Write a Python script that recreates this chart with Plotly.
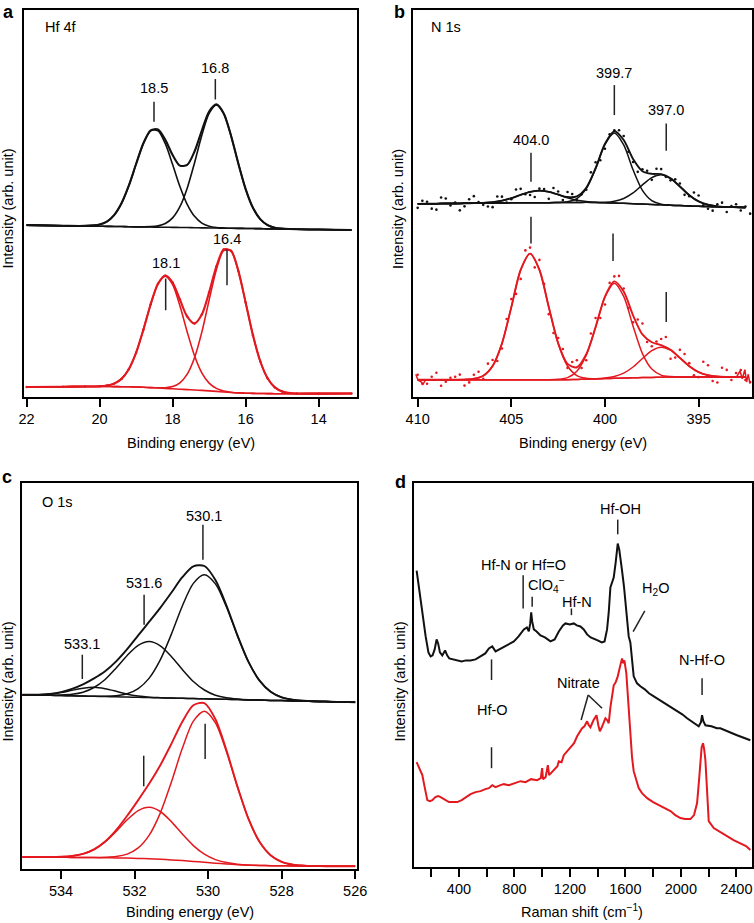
import plotly.graph_objects as go

# ---------------- data ----------------
# a: Hf 4f
hf_be = [22.0, 21.0, 20.4, 20.0, 19.8, 19.6, 19.4, 19.2, 19.0, 18.8, 18.6, 18.4, 18.2, 18.0, 17.8, 17.6, 17.4,
         17.2, 17.0, 16.8, 16.6, 16.4, 16.2, 16.0, 15.8, 15.6, 15.4, 15.2, 15.0, 14.8, 14.6, 14.0, 13.1]
hf_blk_bg = [171.7, 171.1, 170.8, 170.6, 170.5, 170.4, 170.3, 170.1, 170.0, 169.9, 169.8, 169.7, 169.6, 169.5, 169.4,
             169.3, 169.1, 169.0, 168.9, 168.8, 168.7, 168.6, 168.5, 168.4, 168.3, 168.2, 168.0, 167.9, 167.8, 167.7,
             167.6, 167.3, 166.8]
hf_blk_p1 = [171.7, 171.1, 171.0, 172.4, 175.3, 181.8, 193.5, 211.1, 232.8, 253.4, 266.1, 266.0, 253.1, 232.3, 210.4,
             192.5, 180.5, 173.8, 170.7, 169.4, 168.9, 168.6, 168.5, 168.4, 168.3, 168.2, 168.0, 167.9, 167.8, 167.7,
             167.6, 167.3, 166.8]
hf_blk_p2 = [171.7, 171.1, 170.8, 170.6, 170.5, 170.4, 170.3, 170.1, 170.0, 170.0, 170.2, 171.0, 173.4, 179.0, 190.2,
             208.7, 233.9, 261.5, 283.4, 291.8, 283.2, 261.1, 233.3, 207.8, 189.1, 177.7, 171.8, 169.2, 168.2, 167.8,
             167.6, 167.3, 166.8]
hf_blk_env = [171.7, 171.1, 171.0, 172.4, 175.3, 181.8, 193.5, 211.1, 232.8, 253.5, 266.5, 267.3, 256.9, 241.8, 231.2,
              231.9, 245.3, 266.3, 285.2, 292.4, 283.4, 261.1, 233.3, 207.8, 189.1, 177.7, 171.8, 169.2, 168.2, 167.8,
              167.6, 167.3, 166.8]
hf_red_bg = [10.0, 10.3, 10.5, 10.5, 10.5, 10.4, 10.3, 10.2, 10.0, 9.7, 9.4, 9.0, 8.6, 8.2, 7.8, 7.4, 7.0, 6.6, 6.1,
             5.6, 5.0, 4.5, 4.1, 3.8, 3.6, 3.5, 3.4, 3.3, 3.3, 3.3, 3.3, 3.4, 3.5]
hf_red_p1 = [10.0, 10.3, 10.5, 10.8, 11.5, 13.4, 18.1, 27.8, 44.3, 67.3, 92.7, 113.0, 120.6, 112.2, 91.1, 65.0, 41.3,
             24.2, 13.9, 8.6, 6.0, 4.8, 4.1, 3.8, 3.6, 3.5, 3.4, 3.3, 3.3, 3.3, 3.3, 3.4, 3.5]
hf_red_p2 = [10.0, 10.3, 10.5, 10.5, 10.5, 10.4, 10.3, 10.2, 10.0, 9.7, 9.4, 9.2, 9.3, 10.4, 14.1, 22.8, 39.2, 64.8,
             96.8, 127.5, 146.4, 145.9, 126.0, 94.5, 61.8, 35.7, 18.8, 9.6, 5.5, 4.0, 3.5, 3.4, 3.5]
hf_red_env = [10.0, 10.3, 10.5, 10.8, 11.5, 13.4, 18.1, 27.8, 44.3, 67.3, 92.7, 113.2, 121.3, 114.4, 97.4, 80.4, 73.5,
              82.4, 104.6, 130.5, 147.4, 146.2, 126.0, 94.5, 61.8, 35.7, 18.8, 9.6, 5.5, 4.0, 3.5, 3.4, 3.5]

# b: N 1s
n1s_be = [410.0, 409.5, 409.0, 408.5, 408.0, 407.5, 407.0, 406.5, 406.0, 405.5, 405.0, 404.5, 404.0, 403.5, 403.0,
          402.5, 402.0, 401.5, 401.0, 400.5, 400.0, 399.5, 399.0, 398.5, 398.0, 397.5, 397.0, 396.5, 396.0, 395.5,
          395.0, 394.5, 394.0, 393.5, 393.0, 392.5]
n1s_blk_bg = [193.0, 193.1, 193.2, 193.3, 193.4, 193.5, 193.6, 193.7, 193.8, 193.9, 194.0, 194.1, 194.1, 194.2, 194.2,
              194.3, 194.4, 194.4, 194.5, 194.3, 194.0, 193.8, 193.5, 193.1, 192.8, 192.4, 192.0, 191.6, 191.3, 190.9,
              190.5, 190.3, 190.0, 189.8, 189.6, 189.3]
n1s_blk_p1 = [193.0, 193.1, 193.2, 193.3, 193.4, 193.5, 193.7, 194.0, 194.7, 196.2, 198.7, 202.0, 204.9, 206.2, 205.0,
              202.2, 199.1, 196.7, 195.4, 194.6, 194.1, 193.8, 193.5, 193.1, 192.8, 192.4, 192.0, 191.6, 191.3, 190.9,
              190.5, 190.3, 190.0, 189.8, 189.6, 189.3]
n1s_blk_p2 = [193.0, 193.1, 193.2, 193.3, 193.4, 193.5, 193.6, 193.7, 193.8, 193.9, 194.0, 194.1, 194.1, 194.2, 194.2,
              194.4, 195.1, 198.2, 208.2, 228.2, 252.4, 263.8, 251.9, 227.0, 206.5, 196.2, 192.7, 191.7, 191.3, 190.9,
              190.5, 190.3, 190.0, 189.8, 189.6, 189.3]
n1s_blk_p3 = [193.0, 193.1, 193.2, 193.3, 193.4, 193.5, 193.6, 193.7, 193.8, 193.9, 194.0, 194.1, 194.1, 194.2, 194.2,
              194.3, 194.4, 194.4, 194.5, 194.4, 194.5, 195.6, 198.4, 203.9, 211.9, 219.2, 222.0, 218.4, 210.4, 201.7,
              195.4, 192.1, 190.5, 189.9, 189.6, 189.3]
n1s_blk_env = [193.0, 193.1, 193.2, 193.3, 193.4, 193.5, 193.7, 194.0, 194.7, 196.2, 198.7, 202.0, 204.9, 206.2, 205.0,
               202.3, 199.8, 200.5, 209.1, 228.6, 253.0, 265.6, 256.8, 237.8, 225.6, 223.0, 222.7, 218.5, 210.4, 201.7,
               195.4, 192.1, 190.5, 189.9, 189.6, 189.3]
n1s_dot_be = [409.75, 409.25, 408.75, 408.25, 407.75, 407.25, 406.75, 406.25, 405.75, 405.25, 404.75, 404.25, 403.75,
              403.25, 402.75, 402.25, 401.75, 401.25, 400.75, 400.25, 399.75, 399.25, 398.75, 398.25, 397.75, 397.25,
              396.75, 396.25, 395.75, 395.25, 394.75, 394.25, 393.75, 393.25, 392.75, 392.25,
              410.0, 409.5, 409.0, 408.5, 408.0, 407.5, 407.0, 406.5, 406.0, 405.5, 405.0, 404.5, 404.0, 403.5, 403.0,
              402.5, 402.0, 401.5, 401.0, 400.5, 400.0, 399.5, 399.0, 398.5, 398.0, 397.5, 397.0, 396.5, 396.0, 395.5,
              395.0, 394.5, 394.0, 393.5, 393.0, 392.5]
n1s_blk_dots = [196.0, 188.2, 199.3, 191.4, 186.5, 197.6, 194.8, 190.3, 200.4, 194.4, 207.4, 202.6, 199.8, 207.8,
                208.8, 196.8, 202.8, 202.5, 224.5, 236.5, 262.5, 266.5, 245.0, 225.0, 226.0, 228.0, 220.0, 217.5,
                202.0, 204.3, 191.5, 186.2, 194.2, 190.7, 186.4, 183.2,
                189.0, 195.1, 187.2, 198.3, 194.4, 190.5, 200.7, 192.0, 189.7, 200.2, 197.7, 208.0, 201.9, 208.2,
                198.0, 205.3, 204.8, 196.5, 207.1, 234.6, 248.0, 266.6, 260.8, 234.8, 227.6, 217.0, 227.7, 216.5,
                213.4, 200.7, 201.4, 188.1, 192.5, 184.9, 192.6, 190.3]
n1s_red_bg = [17.3, 17.3, 17.3, 17.3, 17.3, 17.3, 17.3, 17.3, 17.3, 17.3, 17.3, 17.3, 17.3, 17.3, 17.3, 17.3, 17.3,
              17.5, 17.8, 18.1, 18.4, 18.7, 19.0, 19.2, 19.4, 19.6, 19.8, 20.0, 20.0, 20.0, 20.0, 20.0, 20.0, 20.0,
              20.0, 20.0]
n1s_red_p1 = [17.3, 17.3, 17.3, 17.3, 17.3, 17.4, 18.2, 21.2, 31.0, 53.5, 89.8, 127.0, 143.3, 127.0, 89.8, 53.5, 31.0,
              21.4, 18.7, 18.2, 18.4, 18.7, 19.0, 19.2, 19.4, 19.6, 19.8, 20.0, 20.0, 20.0, 20.0, 20.0, 20.0, 20.0,
              20.0, 20.0]
n1s_red_p2 = [17.3, 17.3, 17.3, 17.3, 17.3, 17.3, 17.3, 17.3, 17.3, 17.3, 17.3, 17.3, 17.3, 17.3, 17.3, 17.7, 19.4,
              25.8, 41.8, 69.7, 99.9, 113.7, 100.5, 70.8, 43.4, 27.9, 21.9, 20.4, 20.0, 20.0, 20.0, 20.0, 20.0, 20.0,
              20.0, 20.0]
n1s_red_p3 = [17.3, 17.3, 17.3, 17.3, 17.3, 17.3, 17.3, 17.3, 17.3, 17.3, 17.3, 17.3, 17.3, 17.3, 17.3, 17.3, 17.3,
              17.5, 17.8, 18.2, 18.9, 20.5, 23.9, 30.0, 38.5, 46.4, 49.8, 46.8, 39.1, 30.8, 24.9, 21.8, 20.5, 20.1,
              20.0, 20.0]
n1s_red_env = [17.3, 17.3, 17.3, 17.3, 17.3, 17.4, 18.2, 21.2, 31.0, 53.5, 89.8, 127.0, 143.3, 127.0, 89.8, 53.9,
               33.1, 29.7, 42.7, 69.9, 100.4, 115.5, 105.4, 81.6, 62.5, 54.7, 51.9, 47.2, 39.1, 30.8, 24.9, 21.8,
               20.5, 20.1, 20.0, 20.0]
n1s_red_dots = [13.3, 20.3, 11.3, 19.3, 22.4, 14.6, 25.3, 33.3, 36.0, 78.0, 103.0, 146.5, 129.5, 113.0, 64.0, 48.0,
                35.0, 29.0, 63.5, 79.0, 114.0, 121.0, 89.0, 77.5, 55.0, 55.5, 60.0, 39.5, 43.0, 21.7, 35.2, 16.0,
                29.3, 17.0, 27.0, 15.0,
                22.3, 13.3, 24.3, 15.3, 20.3, 11.4, 22.2, 18.2, 37.0, 48.5, 97.8, 118.0, 149.3, 137.0, 82.8, 58.9,
                29.1, 36.7, 36.7, 78.9, 92.4, 120.5, 108.4, 74.6, 73.5, 50.7, 57.9, 38.2, 47.1, 33.8, 19.9, 31.8,
                14.5, 27.1, 24.0, 17.0]
n1s_red_left_be = [410.1, 409.98, 409.8, 409.72, 409.57, 409.4]
n1s_red_left = [22.7, 16.7, 15.0, 12.7, 17.3, 17.3]
n1s_red_right_be = [393.2, 392.97, 392.79, 392.67, 392.53, 392.44, 392.35, 392.26]
n1s_red_right = [20.0, 20.0, 26.0, 18.3, 27.3, 15.0, 22.7, 13.3]

# c: O 1s
o1s_be = [535.05, 534.9, 534.6, 534.3, 534.0, 533.7, 533.4, 533.1, 532.8, 532.5, 532.2, 531.9, 531.6, 531.3, 531.0,
          530.7, 530.4, 530.1, 529.8, 529.5, 529.2, 528.9, 528.6, 528.3, 528.0, 527.7, 527.4, 527.1, 526.8, 526.5,
          526.2, 526.0]
o1s_blk_bg = [174.3, 174.2, 173.9, 173.7, 173.5, 173.2, 172.9, 172.7, 172.4, 172.2, 171.9, 171.7, 171.4, 171.2, 170.9,
              170.7, 170.4, 170.2, 169.9, 169.7, 169.4, 169.1, 168.9, 168.6, 168.4, 168.1, 167.9, 167.6, 167.4, 167.1,
              166.9, 166.7]
o1s_blk_p1 = [174.3, 174.2, 173.9, 173.7, 173.5, 173.2, 172.9, 172.8, 172.7, 173.3, 175.2, 180.4, 190.9, 209.1, 234.6,
              263.0, 285.6, 294.2, 285.1, 262.0, 233.1, 207.0, 188.4, 177.3, 171.7, 169.2, 168.2, 167.7, 167.4, 167.1,
              166.9, 166.7]
o1s_blk_p2 = [174.3, 174.2, 173.9, 173.8, 174.0, 174.7, 176.8, 181.5, 189.5, 201.0, 213.6, 223.7, 227.4, 223.2, 212.6,
              199.5, 187.5, 179.0, 173.8, 171.2, 169.9, 169.2, 168.9, 168.6, 168.4, 168.1, 167.9, 167.6, 167.4, 167.1,
              166.9, 166.7]
o1s_blk_p3 = [174.3, 174.3, 174.3, 174.9, 176.4, 178.7, 180.8, 181.7, 180.3, 177.7, 174.8, 172.9, 171.8, 171.3, 170.9,
              170.7, 170.4, 170.2, 169.9, 169.7, 169.4, 169.1, 168.9, 168.6, 168.4, 168.1, 167.9, 167.6, 167.4, 167.1,
              166.9, 166.7]
o1s_blk_env = [174.3, 174.3, 174.3, 175.0, 176.9, 180.2, 184.7, 190.6, 197.7, 207.6, 219.8, 233.6, 247.3, 261.2, 276.3,
               291.8, 302.7, 303.0, 289.0, 263.5, 233.6, 207.1, 188.4, 177.3, 171.7, 169.2, 168.2, 167.7, 167.4, 167.1,
               166.9, 166.7]
o1s_red_bg = [12.0, 12.0, 11.9, 11.8, 11.7, 11.6, 11.5, 11.4, 11.3, 11.1, 10.9, 10.6, 10.2, 9.7, 9.1, 8.4, 7.6, 6.7,
              5.8, 5.0, 4.3, 3.8, 3.5, 3.3, 3.2, 3.1, 3.0, 2.9, 2.8, 2.8, 2.7, 2.7]
o1s_red_p1 = [12.0, 12.0, 11.9, 11.8, 11.7, 11.6, 11.5, 11.5, 11.7, 12.4, 14.9, 21.1, 33.9, 55.9, 86.7, 120.7, 147.9,
              157.7, 146.1, 117.3, 81.9, 50.0, 27.2, 13.8, 7.2, 4.4, 3.4, 3.0, 2.8, 2.8, 2.7, 2.7]
o1s_red_p2 = [12.0, 12.0, 11.9, 11.9, 12.2, 13.0, 15.1, 19.5, 27.1, 37.6, 49.2, 58.4, 61.7, 57.5, 47.4, 34.9, 23.4,
              14.8, 9.4, 6.4, 4.8, 3.9, 3.5, 3.3, 3.2, 3.1, 3.0, 2.9, 2.8, 2.8, 2.7, 2.7]
o1s_red_env = [12.0, 12.0, 11.9, 11.9, 12.2, 13.0, 15.1, 19.6, 27.5, 38.9, 53.2, 68.9, 85.4, 103.7, 125.0, 147.2,
               163.7, 165.8, 149.7, 118.7, 82.4, 50.1, 27.2, 13.8, 7.2, 4.4, 3.4, 3.0, 2.8, 2.8, 2.7, 2.7]

# d: Raman
raman_blk_x = [95, 110, 124, 140, 160, 180, 196, 210, 225, 239, 250, 263, 280, 300, 315, 330, 360, 388, 420, 450, 484,
               520, 556, 590, 616, 640, 664, 690, 724, 760, 796, 830, 868, 890, 904, 914, 921, 928, 940, 960, 988,
               1020, 1060, 1090, 1120, 1150, 1168, 1200, 1228, 1250, 1276, 1300, 1324, 1350, 1372, 1400, 1430, 1450,
               1468, 1480, 1492, 1505, 1516, 1530, 1545, 1556, 1566, 1576, 1590, 1600, 1612, 1624, 1636, 1648, 1660,
               1684, 1708, 1740, 1770, 1805, 1850, 1890, 1925, 1970, 2010, 2045, 2090, 2129, 2145, 2153, 2162, 2177,
               2220, 2260, 2285, 2330, 2370, 2405, 2450, 2501]
raman_blk_y = [297, 282, 267, 248, 231, 215, 211, 212, 218, 228, 224, 215, 212, 217, 212, 209, 208, 207, 206, 207, 207,
               208, 211, 214, 219, 221, 216, 218, 221, 224, 226, 231, 238, 240, 236, 244, 255, 246, 238, 236, 232,
               230, 226, 228, 236, 242, 244, 243, 244, 242, 241, 238, 233, 230, 229, 227, 225, 226,
               238, 255, 280, 286, 290, 305, 324, 318, 304, 297, 281, 264, 246, 231, 225, 205, 191,
               184, 181, 178, 174, 171, 167, 164, 161, 157, 153, 149, 145, 141, 145, 152, 146, 142,
               141, 139, 139, 136, 134, 132, 130, 127]
raman_red_x = [95, 110, 124, 136, 150, 160, 172, 190, 208, 230, 250, 268, 290, 310, 328, 360, 388, 420, 450, 484, 520,
               556, 590, 616, 640, 664, 700, 724, 760, 800, 844, 880, 920, 964, 990, 1000, 1006, 1025, 1041, 1050,
               1070, 1090, 1110, 1120, 1140, 1156, 1180, 1204, 1230, 1252, 1270, 1288, 1305, 1324, 1336, 1348, 1370,
               1392, 1405, 1416, 1430, 1456, 1470, 1480, 1492, 1505, 1516, 1530, 1545, 1560, 1576, 1585, 1593, 1607,
               1620, 1636, 1648, 1660, 1680, 1696, 1720, 1757, 1800, 1853, 1890, 1925, 1960, 1997, 2030, 2069, 2095,
               2117, 2130, 2141, 2150, 2160, 2168, 2177, 2186, 2201, 2237, 2290, 2333, 2380, 2429, 2470, 2501]
raman_red_y = [105, 100, 96, 92, 82, 73, 67, 66, 67, 70, 71, 70, 68, 66, 65, 65, 65, 67, 70, 73, 75,
               76, 78, 79, 82, 80, 82, 83, 82, 84, 86, 85, 88, 87, 89, 99, 88, 90, 102, 92,
               95, 97, 101, 106, 105, 112, 116, 119, 124, 131, 135, 139, 141, 146, 142, 140, 147,
               152, 142, 136, 140, 149, 147, 144, 160, 175, 182, 185, 191, 200, 209, 204, 207, 194,
               165, 131, 110, 96, 86, 79, 74, 69, 65, 61, 59, 56, 52, 49, 48, 48, 52,
               64, 85, 107, 120, 124, 118, 107, 80, 46, 39, 35, 31, 27, 24, 21, 17]

# ---------------- figure ----------------
W, H = 754, 923
RED = "#e3191f"
BLK = "#111111"
FONT = "Liberation Sans, Arial, sans-serif"
FS = 14.5


def px(x):
    return x / W


def py(y):
    return 1 - y / H


fig = go.Figure()


def line(x, y, color, n, width=1.5, shape="spline"):
    fig.add_trace(go.Scatter(x=x, y=y, mode="lines", line=dict(color=color, width=width, shape=shape,
                                                             smoothing=0.8),
                             xaxis="x" + n, yaxis="y" + n, hoverinfo="skip", showlegend=False))


def dots(x, y, color, n, size=2.6):
    fig.add_trace(go.Scatter(x=x, y=y, mode="markers", marker=dict(color=color, size=size),
                             xaxis="x" + n, yaxis="y" + n, hoverinfo="skip", showlegend=False))


# panel a
for s in (hf_blk_bg, hf_blk_p1, hf_blk_p2):
    line(hf_be, s, BLK, "", 1.6)
line(hf_be, hf_blk_env, BLK, "", 2.1)
for s in (hf_red_bg, hf_red_p1, hf_red_p2):
    line(hf_be, s, RED, "", 1.6)
line(hf_be, hf_red_env, RED, "", 2.1)
dots(hf_be, hf_red_env, RED, "", 2.4)

# panel b
dots(n1s_dot_be, n1s_blk_dots, BLK, "2")
for s in (n1s_blk_bg, n1s_blk_p1, n1s_blk_p2, n1s_blk_p3):
    line(n1s_be, s, BLK, "2", 1.5)
line(n1s_be, n1s_blk_env, BLK, "2", 1.9)
dots(n1s_dot_be, n1s_red_dots, RED, "2")
for s in (n1s_red_bg, n1s_red_p1, n1s_red_p2, n1s_red_p3):
    line(n1s_be, s, RED, "2", 1.5)
line(n1s_be, n1s_red_env, RED, "2", 1.9)
line(n1s_red_left_be, n1s_red_left, RED, "2", 1.5, "linear")
line(n1s_red_right_be, n1s_red_right, RED, "2", 1.5, "linear")

# panel c
for s in (o1s_blk_bg, o1s_blk_p1, o1s_blk_p2, o1s_blk_p3):
    line(o1s_be, s, BLK, "3", 1.5)
line(o1s_be, o1s_blk_env, BLK, "3", 1.9)
for s in (o1s_red_bg, o1s_red_p1, o1s_red_p2):
    line(o1s_be, s, RED, "3", 1.5)
line(o1s_be, o1s_red_env, RED, "3", 1.9)

# panel d
line(raman_blk_x, raman_blk_y, BLK, "4", 2.0, "linear")
line(raman_red_x, raman_red_y, RED, "4", 2.0, "linear")

axis_common = dict(showline=True, mirror=True, linecolor="black", linewidth=1.5, showgrid=False, zeroline=False,
                   automargin=False)
xcommon = dict(axis_common, ticks="outside", ticklen=8, tickwidth=1.5, tickcolor="black",
               tickfont=dict(family=FONT, size=FS, color="black"))
ycommon = dict(axis_common, ticks="", showticklabels=False)

fig.update_layout(
    width=W, height=H, margin=dict(l=0, r=0, t=0, b=0),
    paper_bgcolor="white", plot_bgcolor="white",
    font=dict(family=FONT, size=FS, color="black"),
    xaxis=dict(xcommon, domain=[px(24), px(357)], range=[22.07, 12.95], tickvals=[22, 20, 18, 16, 14],
               anchor="y"),
    yaxis=dict(ycommon, domain=[py(397), py(10)], range=[0, 386.7], anchor="x"),
    xaxis2=dict(xcommon, domain=[px(413), px(752)], range=[410.25, 392.15], tickvals=[410, 405, 400, 395],
                anchor="y2"),
    yaxis2=dict(ycommon, domain=[py(397), py(10)], range=[0, 386.7], anchor="x2"),
    xaxis3=dict(xcommon, domain=[px(22), px(357)], range=[535.06, 525.95], tickvals=[534, 532, 530, 528, 526],
                anchor="y3"),
    yaxis3=dict(ycommon, domain=[py(869), py(483)], range=[0, 386], anchor="x3"),
    xaxis4=dict(xcommon, domain=[px(414), px(752)], range=[76, 2513], tickvals=[400, 800, 1200, 1600, 2000, 2400],
                minor=dict(tickvals=[200, 600, 1000, 1400, 1800, 2200], ticks="outside", ticklen=8, tickwidth=1.5,
                           tickcolor="black"),
                anchor="y4"),
    yaxis4=dict(ycommon, domain=[py(867), py(483)], range=[0, 384.7], anchor="x4"),
)

ann = []


def t(text, x, y, n="", xanchor="center", size=FS, bold=False):
    ann.append(dict(text=("<b>%s</b>" % text) if bold else text, x=x, y=y, xref="x" + n, yref="y" + n,
                    xanchor=xanchor, yanchor="middle", showarrow=False,
                    font=dict(family=FONT, size=size, color="black")))


def tp(text, x, y, xanchor="center", yanchor="middle", size=FS, bold=False, angle=0):
    ann.append(dict(text=("<b>%s</b>" % text) if bold else text, x=px(x), y=py(y), xref="paper", yref="paper",
                    xanchor=xanchor, yanchor=yanchor, showarrow=False, textangle=angle,
                    font=dict(family=FONT, size=size, color="black")))


# peak labels
t("18.5", 18.51, 308.7); t("16.8", 16.83, 328.4); t("18.1", 18.19, 133.4); t("16.4", 16.51, 157.4)
t("404.0", 403.95, 256.7, "2"); t("399.7", 399.5, 323.4, "2"); t("397.0", 396.73, 286.7, "2")
t("530.1", 530.12, 352.7, "3"); t("531.6", 531.74, 286, "3"); t("533.1", 533.43, 225, "3")
t("Hf-OH", 1564, 359, "4"); t("Hf-N or Hf=O", 868, 302.3, "4")
t("ClO<sub>4</sub><sup>−</sup>", 887, 282.3, "4", xanchor="left")
t("Hf-N", 1252, 265.7, "4"); t("H<sub>2</sub>O", 1817, 279, "4"); t("N-Hf-O", 2153, 207.3, "4")
t("Nitrate", 1259, 184.7, "4"); t("Hf-O", 640, 157.3, "4")

# panel texts
tp("Hf 4f", 43, 27, xanchor="left"); tp("N 1s", 429, 27, xanchor="left"); tp("O 1s", 40, 502, xanchor="left")
tp("a", 1, 0, xanchor="left", yanchor="top", bold=True, size=18)
tp("b", 392, 0, xanchor="left", yanchor="top", bold=True, size=18)
tp("c", 0, 465, xanchor="left", yanchor="top", bold=True, size=18)
tp("d", 393, 470, xanchor="left", yanchor="top", bold=True, size=18)
for (x, y) in [(7.5, 209), (398, 209), (7.5, 682), (399.5, 682)]:
    tp("Intensity (arb. unit)", x, y, angle=-90)
tp("Binding energy (eV)", 190.5, 443); tp("Binding energy (eV)", 582.5, 443)
tp("Binding energy (eV)", 190, 912); tp("Raman shift (cm<sup>−1</sup>)", 582, 911)
fig.update_layout(annotations=ann)

shapes = []


def seg(n, x0, y0, x1, y1):
    shapes.append(dict(type="line", xref="x" + n, yref="y" + n, x0=x0, y0=y0, x1=x1, y1=y1,
                       line=dict(color="#222222", width=1.5)))


seg("", 18.51, 275, 18.51, 295); seg("", 16.83, 297.3, 16.83, 317.7)
seg("", 18.19, 86.7, 18.19, 118.3); seg("", 16.51, 111.7, 16.51, 147.3)
seg("2", 403.95, 215, 403.95, 244); seg("2", 403.95, 153.3, 403.95, 180)
seg("2", 399.5, 281.7, 399.5, 311.7); seg("2", 399.57, 136, 399.57, 163.3)
seg("2", 396.73, 246, 396.73, 273.3); seg("2", 396.73, 75, 396.73, 105)
seg("3", 530.14, 309.3, 530.14, 344.3); seg("3", 531.74, 244.3, 531.74, 274.3)
seg("3", 533.42, 190, 533.42, 214.3); seg("3", 531.75, 82.7, 531.75, 113.3)
seg("3", 530.08, 110, 530.08, 145.3)
seg("4", 1545, 333.3, 1545, 348); seg("4", 863, 259, 863, 292.3); seg("4", 928, 260.7, 928, 270.7)
seg("4", 1211, 252.3, 1211, 259); seg("4", 1656, 235.7, 1740, 256.7); seg("4", 2153, 172.3, 2153, 189)
seg("4", 1281, 147.3, 1332, 172.3); seg("4", 1332, 172.3, 1432, 159)
seg("4", 635, 187.3, 635, 208); seg("4", 635, 99, 635, 120)
fig.update_layout(shapes=shapes)

fig.write_html("out.html", config={"displayModeBar": False},
               post_script="document.body.style.margin='0px';document.body.style.overflow='hidden';")
